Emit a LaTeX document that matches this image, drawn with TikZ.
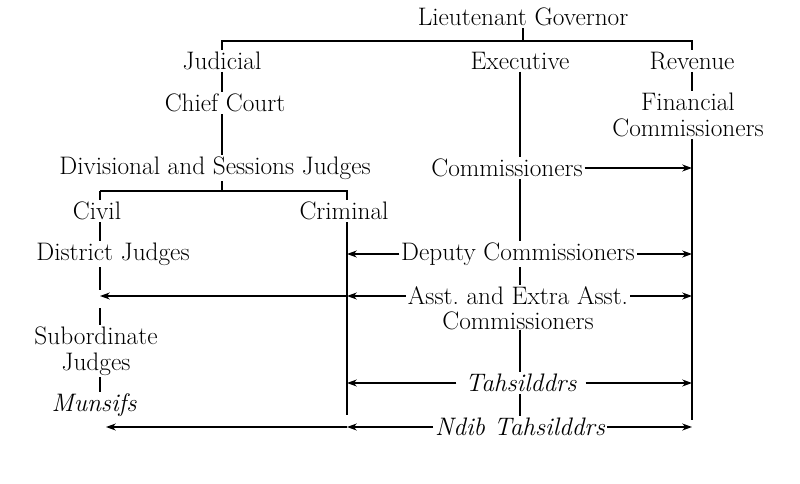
\documentclass[tikz,border=0pt]{standalone}
\usetikzlibrary{arrows.meta, positioning, calc}
\tikzset{every node/.style={font=\fontsize{18}{18.5}\selectfont}}

\begin{document}
\begin{tikzpicture}[x=0.025cm, y=-0.025cm, line width=0.8pt,
    post/.style={inner sep=1pt},
    link/.style={line width=1pt, -{Stealth[length=7pt, width=5pt]}}]
    \useasboundingbox (0,0) rectangle (800,484);
    % heads
    \node[post] (lg) at (523,17) {Lieutenant Governor};
    \node[post] (jud) at (222,61) {Judicial};
    \node[post] (exe) at (520,61) {Executive};
    \node[post] (rev) at (692,61) {Revenue};
    \coordinate (bar) at (523,41);
    \draw (lg.south) -- (bar);
    \draw (jud.north) |- (bar) -| (rev.north);
    % judicial side
    \node[post] (cc) at (225,103) {Chief Court};
    \node[post] (dsj) at (215,168) {Divisional and Sessions Judges};
    \node[post] (civ) at (97,211) {Civil};
    \node[post] (crim) at (344,211) {Criminal};
    \node[post] (dj) at (113,254) {District Judges};
    \node[post, align=center] (sub) at (96,351) {Subordinate\\Judges};
    \node[post] (mun) at (94,405) {\itshape Munsifs};
    \coordinate (fork) at (222,191);
    \draw (jud) -- (jud |- cc.north);
    \draw (jud |- cc.south) -- (jud |- dsj.north);
    \draw (jud |- dsj.south) -- (fork);
    \draw (fork -| 100,0) -- (fork) -| (347,0 |- crim.north);
    \draw (100,0 |- fork) -- (100,0 |- civ.north);
    \draw (100,0 |- civ.south) -- (100,0 |- dj.north);
    \draw (100,0 |- dj.south) -- (100,290);
    \draw (100,308) -- (100,0 |- sub.north);
    \draw (100,0 |- sub.south) -- (100,0 |- mun.north);
    \coordinate (crimend) at (347,415);
    \draw (347,0 |- crim.south) -- (crimend);
    % executive and revenue side
    \node[post, align=center] (fc) at (688,115) {Financial\\Commissioners};
    \node[post] (com) at (507,168) {Commissioners};
    \node[post] (dep) at (518,254) {Deputy Commissioners};
    \node[post] (asst) at (518,296) {Asst.\ and Extra Asst.};
    \node[post, inner ysep=0pt, below=3pt of asst] (asstb) {Commissioners};
    \node[post, inner xsep=6pt] (tah) at (521,383) {\itshape Tahsilddrs};
    \node[post] (naib) at (520,427) {\itshape Ndib Tahsilddrs};
    \coordinate (revend) at (692,420);
    \draw (rev.south) -- (rev.south |- fc.north);
    \draw (revend |- fc.south) -- (revend);
    \draw (exe.south) -- (exe.south |- com.north);
    \draw (exe.south |- com.south) -- (exe.south |- dep.north);
    \draw (exe.south |- dep.south) -- (exe.south |- asst.north);
    \draw (exe.south |- asstb.south) -- (exe.south |- tah.north);
    \draw (exe.south |- tah.south) -- (exe.south |- naib.north);
    % arrows
    \draw[link] (com.east) -- (com.east -| revend);
    \draw[link] (dep.east) -- (dep.east -| revend);
    \draw[link] (dep.west) -- (dep.west -| crimend);
    \draw[link] (asst.east) -- (asst.east -| revend);
    \draw[link] (asst.west) -- (asst.west -| crimend);
    \draw[link] (asst.west -| crimend) -- (asst.west -| 100,0);
    \draw[link] (tah.east) -- (tah.east -| revend);
    \draw[link] (tah.west) -- (tah.west -| crimend);
    \draw[link] (naib.east) -- (naib.east -| revend);
    \draw[link] (naib.west) -- (naib.west -| crimend);
    \draw[link] (naib.west -| crimend) -- (naib.west -| 106,0);
\end{tikzpicture}
\end{document}
